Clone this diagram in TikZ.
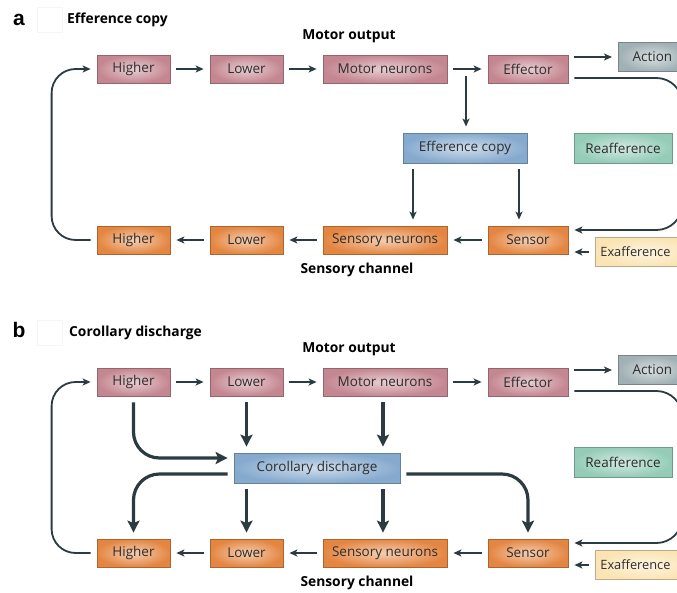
\documentclass[tikz,border=0pt]{standalone}
\usepackage{fontspec}
\setmainfont{Open Sans}
\newfontfamily\panelfont{Liberation Sans}
\usetikzlibrary{calc,arrows.meta}
\definecolor{mauve}{RGB}{196,134,144}
\definecolor{orng}{RGB}{228,134,66}
\definecolor{bluec}{RGB}{134,170,206}
\definecolor{greenc}{RGB}{148,204,184}
\definecolor{grayc}{RGB}{160,176,180}
\definecolor{cream}{RGB}{250,228,180}
\definecolor{arrowc}{RGB}{44,58,66}
\definecolor{textc}{RGB}{45,45,45}
\begin{document}
\begin{tikzpicture}[x=1pt,y=-1pt]
        \tikzset{
          box/.style={draw=#1!75!black, line width=0.8pt, inner color=#1!40!white, outer color=#1,
            minimum height=28pt, inner sep=0pt, text=textc, font=\fontsize{13.5}{15}\selectfont},
          exbox/.style={box=cream, minimum width=100pt, minimum height=29pt, anchor=west,
            text width=90pt, align=left, inner xsep=5pt, font=\fontsize{12.8}{14}\selectfont},
          head/.style={font=\bfseries\fontsize{13.8}{15}\selectfont, inner sep=0pt},
          panel/.style={font=\panelfont\bfseries\fontsize{21}{22}\selectfont, inner sep=0pt},
          blank/.style={draw=black!4, minimum width=25pt, minimum height=25pt},
          thin/.style={draw=arrowc, line width=1.8pt, shorten <=6pt, shorten >=6pt,
            -{Stealth[length=8pt,width=7pt,inset=2pt]}},
          thick/.style={draw=arrowc, line width=3.2pt, shorten <=6pt, shorten >=6pt,
            -{Stealth[length=12pt,width=12pt,inset=2.5pt]}},
        }
        \useasboundingbox (0,0) rectangle (677,592);
        \clip (0,0) rectangle (677,592);
        % panel a
        \node[panel] (pa) at (19,20) {a};
        \node[blank] (bxa) at (50,20) {};
        \node[head, anchor=west] (tta) at (67,20) {Efference copy};
        \node[head] (moa) at (349,36) {Motor output};
        \node[box=mauve, minimum width=73pt] (hiMa) at (133.5,69) {Higher};
        \node[box=mauve, minimum width=73pt] (loMa) at (246.5,69) {Lower};
        \node[box=mauve, minimum width=124pt] (mnA) at (385,69) {Motor neurons};
        \node[box=mauve, minimum width=80pt] (efA) at (528,69) {Effector};
        \node[box=grayc, minimum width=68pt, minimum height=29pt, anchor=west] (acA) at (618,57) {Action};
        \node[box=bluec, minimum width=124pt, minimum height=30pt] (ecA) at (465,148) {Efference copy};
        \node[box=greenc, minimum width=98pt, minimum height=30pt] (reA) at (623,148) {Reafference};
        \node[box=orng, minimum width=73pt] (hiSa) at (133.5,240) {Higher};
        \node[box=orng, minimum width=73pt] (loSa) at (246.5,240) {Lower};
        \node[box=orng, minimum width=124pt] (snA) at (385,240) {Sensory neurons};
        \node[box=orng, minimum width=80pt] (seA) at (528,240) {Sensor};
        \node[exbox] (exA) at (595,252) {Exafference};
        \node[head] (sca) at (357,270) {Sensory channel};
        \coordinate (tpA) at (466,76);
        \draw[thin] (hiMa) -- (loMa);
        \draw[thin] (loMa) -- (mnA);
        \draw[thin] (mnA) -- (efA);
        \draw[thin] (efA.east |- acA) -- (acA.west);
        \draw[thin, shorten <=0pt] (tpA) -- (tpA |- ecA.north);
        \draw[thin] ([xshift=-52pt]ecA.south) -- ([xshift=-52pt]ecA.south |- snA.north);
        \draw[thin] ([xshift=54pt]ecA.south) -- ([xshift=54pt]ecA.south |- seA.north);
        \draw[thin] (seA) -- (snA);
        \draw[thin] (snA) -- (loSa);
        \draw[thin] (loSa) -- (hiSa);
        \draw[thin] (exA.west) -- (exA.west -| seA.east);
        \draw[thin, rounded corners=26pt] ([yshift=-9pt]efA.east) -- ++(114,0) |- ([yshift=10pt]seA.east);
        \draw[thin, rounded corners=24pt] (hiSa.west) -- ++(-45,0) |- (hiMa.west);
        % panel b
        \node[panel] (pb) at (19,330) {b};
        \node[blank] (bxb) at (50,333) {};
        \node[head, anchor=west] (ttb) at (69,333) {Corollary discharge};
        \node[head] (mob) at (349,349) {Motor output};
        \node[box=mauve, minimum width=73pt] (hiMb) at (133.5,382) {Higher};
        \node[box=mauve, minimum width=73pt] (loMb) at (246.5,382) {Lower};
        \node[box=mauve, minimum width=124pt] (mnB) at (385,382) {Motor neurons};
        \node[box=mauve, minimum width=80pt] (efB) at (528,382) {Effector};
        \node[box=grayc, minimum width=68pt, minimum height=29pt, anchor=west] (acB) at (618,370) {Action};
        \node[box=bluec, minimum width=166pt, minimum height=30pt] (cdB) at (317,468) {Corollary discharge};
        \node[box=greenc, minimum width=98pt, minimum height=30pt] (reB) at (623,462) {Reafference};
        \node[box=orng, minimum width=73pt] (hiSb) at (133.5,553) {Higher};
        \node[box=orng, minimum width=73pt] (loSb) at (246.5,553) {Lower};
        \node[box=orng, minimum width=124pt] (snB) at (385,553) {Sensory neurons};
        \node[box=orng, minimum width=80pt] (seB) at (528,553) {Sensor};
        \node[exbox] (exB) at (595,565) {Exafference};
        \node[head] (scb) at (357,583) {Sensory channel};
        \draw[thin] (hiMb) -- (loMb);
        \draw[thin] (loMb) -- (mnB);
        \draw[thin] (mnB) -- (efB);
        \draw[thin] (efB.east |- acB) -- (acB.west);
        \draw[thin] (seB) -- (snB);
        \draw[thin] (snB) -- (loSb);
        \draw[thin] (loSb) -- (hiSb);
        \draw[thin] (exB.west) -- (exB.west -| seB.east);
        \draw[thin, rounded corners=26pt] ([yshift=-9pt]efB.east) -- ++(114,0) |- ([yshift=10pt]seB.east);
        \draw[thin, rounded corners=24pt] (hiSb.west) -- ++(-45,0) |- (hiMb.west);
        %
        \draw[thick, rounded corners=26pt] (hiMb.south) |- ([yshift=10pt]cdB.west);
        \draw[thick] (loMb.south) -- (loMb.south |- cdB.north);
        \draw[thick] ([xshift=-2pt]mnB.south) -- ([xshift=-2pt]mnB.south |- cdB.north);
        \draw[thick, rounded corners=26pt] ([yshift=-6pt]cdB.west) -| (hiSb.north);
        \draw[thick] (loSb.north |- cdB.south) -- (loSb.north);
        \draw[thick] ([xshift=-2pt]snB.north |- cdB.south) -- ([xshift=-2pt]snB.north);
        \draw[thick, rounded corners=26pt] ([yshift=-6pt]cdB.east) -| (seB.north);
    \end{tikzpicture}
\end{document}
